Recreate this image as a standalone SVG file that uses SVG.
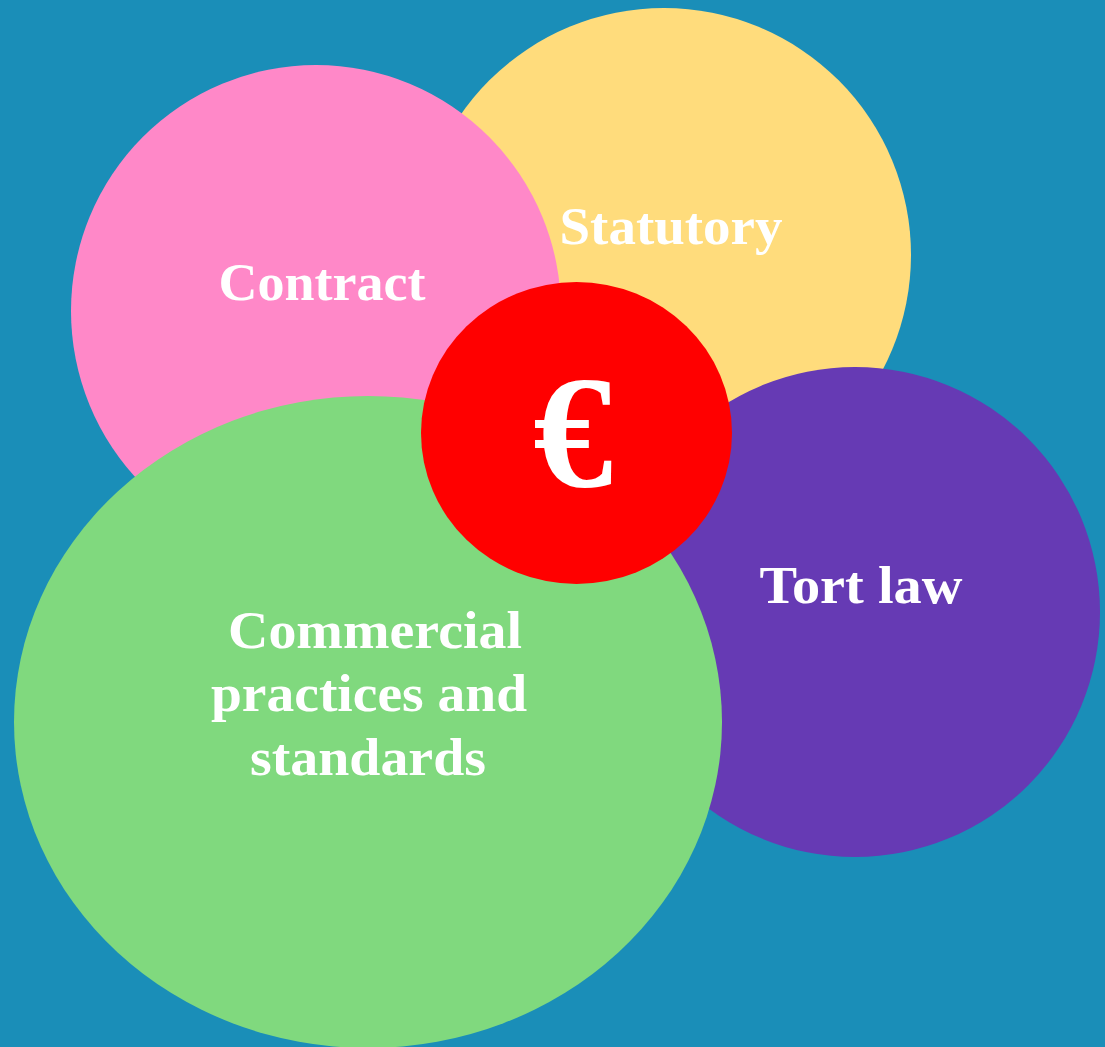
<svg xmlns="http://www.w3.org/2000/svg" width="1105" height="1047" viewBox="0 0 1105 1047">
  <style>
    .lbl { font-family: "Liberation Serif", "DejaVu Serif", serif; font-weight: bold; font-size: 53px; fill: #ffffff; text-anchor: middle; }
    .euro { font-family: "Liberation Serif", "DejaVu Serif", serif; font-weight: bold; font-size: 160px; fill: #ffffff; text-anchor: middle; }
  </style>
  <rect x="0" y="0" width="1105" height="1047" fill="#1a8eb8"/>
  <g id="statutory">
    <circle cx="664" cy="255" r="247" fill="#ffdc7c"/>
    <text class="lbl" x="671" y="244" textLength="223" lengthAdjust="spacingAndGlyphs">Statutory</text>
  </g>
  <g id="contract">
    <ellipse cx="316" cy="311" rx="245" ry="246" fill="#ff88c8"/>
    <text class="lbl" x="322" y="300" textLength="207" lengthAdjust="spacingAndGlyphs">Contract</text>
  </g>
  <g id="tort">
    <circle cx="855" cy="612" r="245" fill="#663ab4"/>
    <text class="lbl" x="861" y="603" textLength="203" lengthAdjust="spacingAndGlyphs">Tort law</text>
  </g>
  <g id="commercial">
    <ellipse cx="368" cy="722" rx="354" ry="326" fill="#80d97e"/>
    <text class="lbl" x="375" y="648" textLength="294" lengthAdjust="spacingAndGlyphs">Commercial</text>
    <text class="lbl" x="369" y="711" textLength="316" lengthAdjust="spacingAndGlyphs">practices and</text>
    <text class="lbl" x="368" y="775" textLength="236" lengthAdjust="spacingAndGlyphs">standards</text>
  </g>
  <g id="euro">
    <ellipse cx="576.5" cy="433" rx="155.5" ry="151" fill="#ff0000"/>
    <text class="euro" x="573" y="486">€</text>
  </g>
  <g id="connectors"/>
</svg>
